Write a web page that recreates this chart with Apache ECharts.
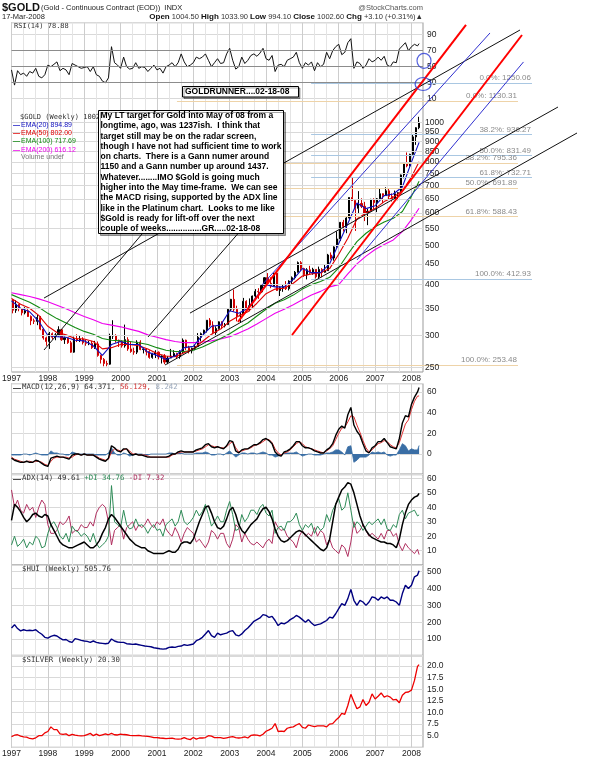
<!DOCTYPE html>
<html><head><meta charset="utf-8">
<script src="https://cdn.jsdelivr.net/npm/echarts@6/dist/echarts.min.js"></script>
<style>html,body{margin:0;padding:0;background:#fff}#c{width:600px;height:757px}</style>
</head><body><div id="c"></div>
<script>
// ================= DATA =================
// Gold monthly bars (Jan 1997 .. Mar 2008): close, high, low
const goldFirstOpen = 367;
const goldClose = [
346,358,349,341,345,334,326,325,332,311,296,290,
303,297,301,310,293,296,288,273,294,292,294,288,
287,287,280,286,268,262,256,255,299,300,292,290,
283,293,278,274,273,289,277,278,274,265,270,273,
266,267,258,264,267,271,266,273,292,280,275,279,
282,297,303,309,327,318,305,312,324,317,319,348,
368,348,335,337,364,347,355,375,385,384,398,416,
403,397,427,387,393,395,391,408,416,429,453,438,
423,435,428,436,418,436,429,433,473,465,495,518,
569,556,583,655,644,616,633,623,599,606,648,636,
650,669,662,680,659,651,669,673,744,793,783,836,
923,972,1002.6];
const goldHigh = [
369,366,358,350,352,348,336,330,337,335,313,298,
306,305,304,316,311,298,296,291,298,302,300,297,
293,291,291,291,290,269,264,260,303,327,302,293,
292,319,297,290,280,292,292,280,278,276,272,276,
274,268,270,267,278,276,272,276,295,293,283,280,
285,304,305,310,327,331,325,316,325,325,322,349,
369,389,355,341,371,366,370,376,390,392,400,417,
427,417,427,430,396,400,408,410,419,432,456,457,
440,439,445,440,436,443,439,448,476,480,497,541,
570,577,586,655,732,644,679,652,639,614,650,652,
653,690,667,694,690,670,681,675,746,795,845,839,
934,975,1034];
const goldLow = [
340,341,344,336,338,333,318,320,318,309,293,283,
278,293,292,298,291,286,286,272,272,289,289,285,
283,284,278,278,266,256,252,252,254,294,288,281,
280,280,275,272,269,270,276,271,268,263,263,264,
262,256,255,255,264,267,264,263,270,276,271,271,
276,281,290,300,305,315,302,301,310,311,314,319,
344,343,325,322,337,344,344,352,371,369,382,398,
399,392,396,386,375,384,388,387,401,412,428,432,
418,412,425,423,414,414,417,428,432,461,458,493,
512,540,535,580,643,542,600,617,573,560,611,613,
603,650,634,663,648,640,651,645,676,730,777,781,
833,882,964];

// Weekly EMAs sampled quarterly (1997.0 .. 2008.0) + last value
const ema20 = [365,350,343,325, 300,298,297,292, 291,283,268,285, 290,285,285,273, 268,262,267,280,
  282,300,316,318, 345,340,350,375, 400,395,395,412, 438,428,428,450, 505,565,635,615, 625,662,668,695, 800, 894.89];
const ema50 = [370,358,350,336, 316,305,301,295, 294,290,278,280, 285,285,283,278, 271,267,266,272,
  278,290,302,311, 325,335,343,360, 380,390,392,403, 420,425,428,438, 475,520,580,600, 615,640,656,680, 735, 802.00];
const ema100 = [378,370,362,352, 340,330,322,314, 307,302,295,292, 291,290,288,285, 280,276,274,274,
  276,281,288,295, 303,313,322,335, 348,360,367,377, 390,400,407,417, 440,475,510,535, 555,570,582,605, 660, 717.69];
const ema200 = [382,378,374,369, 363,356,349,341, 334,328,321,318, 315,311,307,301, 297,293,290,288,
  288,289,291,294, 298,304,311,320, 330,340,348,357, 367,377,385,395, 400,425,450,470, 488,502,515,540, 578, 616.12];

// Monthly indicator readings (Jan 1997 .. Mar 2008) + last value
const rsi14 = [
46,27,45,40,42,38,44,42,48,38,36,40,
52,50,53,56,45,48,46,40,54,52,50,48,
49,50,44,50,40,38,32,30,36,75,55,52,
48,62,50,47,48,55,48,50,49,44,48,52,
46,48,42,50,52,55,50,55,66,56,50,52,
55,62,60,62,66,58,50,55,60,54,55,66,
73,58,47,50,62,54,58,64,66,63,67,73,
60,58,64,44,52,53,50,58,60,62,68,55,
48,55,52,56,45,55,50,53,68,60,70,75,
78,65,68,80,85,48,56,54,48,52,60,56,
58,62,58,63,52,50,56,55,72,76,80,70,
75,78,76,78.88];
const macdLine = [
-4,-6,-7,-8,-8,-7,-8,-8,-6,-7,-9,-11,
-12,-4,-3,-2,-3,-3,-4,-5,-1,0,0,-1,
0,-1,-1,-1,-3,-5,-6,-7,-4,8,6,3,
2,5,5,1,-1,0,-1,-1,-2,-3,-3,-3,
-3,-3,-3,-3,-2,0,0,2,3,2,2,2,
2,4,5,6,9,10,7,6,7,6,5,8,
13,12,3,1,4,5,5,7,9,9,11,14,
15,13,10,2,-1,-2,2,3,5,8,12,12,
8,6,6,5,3,2,1,1,4,6,10,18,
24,27,25,38,45,28,22,18,10,3,1,6,
8,12,12,15,11,7,6,5,15,30,37,36,
48,55,60,64.371];
const macdSignal = [
-3,-5,-6,-7,-8,-7,-7,-8,-7,-7,-8,-10,
-11,-7,-4,-3,-3,-3,-3,-4,-3,-1,0,-1,
0,-1,-1,-1,-2,-4,-5,-6,-5,2,5,4,
3,4,5,3,0,0,-1,-1,-1,-2,-3,-3,
-3,-3,-3,-3,-3,-1,0,1,2,2,2,2,
2,3,4,5,7,9,8,7,7,6,6,7,
10,12,6,2,3,4,5,6,8,9,10,12,
14,14,11,5,1,-1,1,2,4,7,10,12,
10,7,6,5,4,3,2,1,3,5,8,14,
20,25,26,31,37,36,28,21,13,6,2,4,
7,10,11,13,12,9,7,6,11,20,29,33,
43,51,56,56.129];
const macdHist = [
-1,-1,-1,-1,0,0,-1,0,1,0,-1,-1,
-1,3,1,1,0,0,-1,-1,2,1,0,0,
0,0,0,0,-1,-1,-1,-1,1,6,1,-1,
-1,1,0,-2,-1,0,0,0,-1,-1,0,0,
0,0,0,0,1,1,0,1,1,0,0,0,
0,1,1,1,2,1,-1,-1,0,0,-1,1,
3,0,-3,-1,1,1,0,1,1,0,1,2,
1,-1,-1,-3,-2,-1,1,1,1,1,2,0,
-2,-1,0,0,-1,-1,-1,0,1,1,2,4,
4,2,-1,7,8,-8,-6,-3,-3,-3,-1,2,
1,2,1,2,-1,-2,-1,-1,4,10,8,3,
5,4,4,8.242];
const adx14 = [
31,42,40,37,33,30,32,35,36,34,33,35,
34,28,24,20,16,14,13,12,12,13,14,15,
16,14,12,12,14,17,22,26,32,35,33,30,
27,24,21,18,16,14,13,12,12,10,9,8,
8,8,8,9,10,9,9,11,15,16,16,15,
18,24,30,35,40,41,36,30,26,25,27,32,
38,40,35,28,24,22,25,28,30,32,36,39,
40,37,32,25,20,17,16,17,19,21,23,24,
23,21,19,17,15,13,11,10,12,18,30,42,
47,52,54,57,56,50,42,34,28,24,21,19,
18,17,16,16,15,15,14,12,18,28,36,42,
45,47,48,49.61];
const plusDI = [
14,20,13,15,18,12,16,14,20,18,12,13,
22,28,30,26,20,18,22,16,27,24,23,20,
22,20,16,22,15,12,14,16,20,55,30,28,
26,38,28,25,26,32,27,28,26,22,26,28,
24,25,20,28,30,32,27,30,38,30,28,30,
33,38,34,37,42,35,27,30,34,30,30,38,
44,35,24,25,35,30,33,38,38,35,40,42,
36,34,38,22,26,27,24,30,30,32,36,28,
24,28,26,29,22,27,24,26,35,30,38,42,
46,38,40,50,38,26,30,28,24,27,30,28,
30,32,28,32,25,24,28,26,35,38,32,36,
37,38,34,34.76];
const minusDI = [
52,40,45,38,36,42,38,40,33,40,45,42,
28,22,22,24,30,28,30,34,22,24,24,28,
26,26,30,27,36,40,42,40,30,14,24,26,
28,18,26,28,30,24,28,26,28,32,28,26,
30,28,32,25,22,20,26,22,16,22,26,24,
22,16,18,15,12,16,24,22,18,22,22,15,
12,18,28,26,16,22,18,15,14,16,14,12,
16,18,15,30,26,24,25,20,18,16,12,20,
24,20,22,20,26,20,24,22,14,18,12,10,
8,14,12,6,16,30,22,24,28,24,20,22,
20,18,22,18,24,24,20,22,14,10,15,12,
10,8,11,7.32];
const hui = [
165,185,162,148,155,150,152,150,155,140,128,110,
105,115,122,118,105,95,97,85,80,102,98,92,
88,86,80,88,80,76,74,72,75,100,88,82,
80,80,72,70,68,70,66,62,58,56,54,48,
45,42,40,42,50,52,50,56,58,66,62,66,
70,90,98,110,130,150,120,110,135,125,130,135,
145,150,125,118,130,150,165,185,205,215,225,245,
240,228,235,210,180,195,190,200,215,225,240,230,
215,200,215,195,180,185,190,200,210,230,225,250,
280,310,300,340,395,330,300,330,320,300,320,350,
345,330,350,340,350,330,330,320,300,370,420,400,
420,470,480,505.76];
const silver = [
4.8,5.1,5.2,4.9,4.75,4.7,4.4,4.3,4.55,5.0,5.0,5.6,
5.9,6.9,6.3,6.3,5.4,5.3,5.4,5.0,5.3,5.1,5.0,4.95,
5.0,5.25,5.5,5.0,5.35,5.0,5.2,5.4,5.2,5.5,5.2,5.15,
5.35,5.25,5.2,5.05,5.0,5.0,5.05,4.95,4.9,4.85,4.75,4.6,
4.6,4.5,4.45,4.35,4.4,4.45,4.3,4.25,4.3,4.6,4.3,4.15,
4.6,4.25,4.5,4.5,4.6,5.0,4.9,4.6,4.6,4.6,4.4,4.55,
4.7,4.8,4.6,4.5,4.6,4.75,4.5,5.05,5.15,5.1,4.95,5.3,
5.95,6.25,6.6,7.6,5.9,6.0,5.9,6.6,6.8,6.9,7.3,7.6,
6.8,6.6,7.3,7.1,6.95,7.1,7.1,7.1,6.9,7.5,7.6,8.3,
8.9,9.8,9.6,11.5,13.9,12.3,10.8,11.2,12.8,11.5,12.2,14.0,
12.9,13.5,14.2,13.3,13.6,13.3,12.7,12.8,12.1,13.7,14.3,14.4,
14.8,16.9,19.9,20.30];

// Tick labels
const priceTicks = [250,300,350,400,450,500,550,600,650,700,750,800,850,900,950,1000];

// Fibonacci annotations (levels) and their year span
const fibPct = ['0.0%','38.2%','50.0%','61.8%','100.0%'];
const fibA = [1250.06, 936.27, 831.49, 732.71, 412.93];
const fibASpan = [2005.24, 2011.315];
const fibB = [1130.31, 795.36, 691.89, 588.43, 253.48];
const fibBSpan = [2001.55, 2010.93];

// Trend-line annotations: [year, price] end points
const trendBlack = [
  [[1997.894, 276.3], [2001.497, 664.3]],
  [[2000.754, 297.4], [2003.697, 596.5]],
  [[1997.894, 370.7], [2010.985, 1689.6]],
  [[2001.222, 253.8], [2012.553, 943.4]],
  [[2001.909, 340.5], [2012.030, 1092.9]]
];
const trendRed = [
  [[2003.229, 323.9], [2009.500, 1738.7]],
  [[2004.715, 300.8], [2011.040, 1642.5]]
];
const trendBlue = [
  [[2003.889, 399.2], [2010.160, 1661.3]],
  [[2006.502, 459.9], [2011.081, 1410.3]]
];
// RSI-panel circle annotations [year, rsi]
const rsiCircles = [[2008.345, 57.4], [2008.32, 28.4]];

const noteLines = [
'My LT target for Gold into May of 08 from a',
'longtime, ago, was 1237ish.  I think that',
'target still may be on the radar screen,',
'though I have not had sufficient time to work',
'on charts.  There is a Gann numer around',
'1150 and a Gann number up around 1437.',
'Whatever........IMO $Gold is going much',
'higher into the May time-frame.  We can see',
'the MACD rising, supported by the ADX line',
'like in the Platinum chart.  Looks to me like',
'$Gold is ready for lift-off over the next',
'couple of weeks...............GR.....02-18-08'
];

// ================= LAYOUT =================
const PLOT_L = 11.5, PLOT_R = 423, PX_PER_YEAR = 36.36;
const X_MIN = 1997, X_MAX = X_MIN + (PLOT_R - PLOT_L) / PX_PER_YEAR;
const X_MAX_OVER = X_MIN + (600 - PLOT_L) / PX_PER_YEAR;
const Y_1000 = 122.7, PX_PER_DECADE = 406.9;
const MAIN_TOP = 22.7, MAIN_BOTTOM = 372;
const priceAtY = y => 1000 * Math.pow(10, (Y_1000 - y) / PX_PER_DECADE);
const SANS = '"Liberation Sans", Arial, sans-serif';
const MONO = '"DejaVu Sans Mono", monospace';

const monthX = i => i < 135 ? 1997 + i / 12 : 2008.21;
const quarterX = i => i < 45 ? 1997 + i / 4 : 2008.21;
const pairs = (arr, fx) => arr.map((v, i) => [fx(i), v]);

const goldBars = goldClose.map((c, i) => [1997 + (i + 0.5) / 12, i ? goldClose[i - 1] : goldFirstOpen, c, goldLow[i], goldHigh[i]]);

const W = PLOT_R - PLOT_L;
const gridBase = {left: PLOT_L, width: W, containLabel: false, outerBoundsMode: 'none'};
const framed = {show: true, borderColor: '#9a9a9a', borderWidth: 1};
const grids = [
  Object.assign({}, gridBase, framed, {top: MAIN_TOP, height: MAIN_BOTTOM - MAIN_TOP}),
  Object.assign({}, gridBase, {top: 22.7, height: 76}),
  Object.assign({}, gridBase, framed, {top: 383.7, height: 91}),
  Object.assign({}, gridBase, framed, {top: 474, height: 91.2}),
  Object.assign({}, gridBase, framed, {top: 565, height: 90.8}),
  Object.assign({}, gridBase, framed, {top: 655.3, height: 92}),
  {left: PLOT_L, width: 600 - PLOT_L, top: 0, height: MAIN_BOTTOM, containLabel: false, outerBoundsMode: 'none'}
];

function xAx(gi, showLabel) {
  const grid = gi !== 1;
  return {type: 'value', gridIndex: gi, min: X_MIN, max: X_MAX, interval: 1,
    axisLine: {show: false}, axisTick: {show: false},
    axisLabel: {show: showLabel, fontSize: 8.5, fontFamily: SANS, color: '#222', margin: 2,
      showMaxLabel: false, formatter: v => (Math.abs(v - Math.round(v)) < 1e-6 ? String(Math.round(v)) : '')},
    splitLine: {show: grid, lineStyle: {color: '#cdcdcd', width: 1}},
    minorTick: {show: grid, splitNumber: 3, length: 0},
    minorSplitLine: {show: grid, lineStyle: {color: '#e4e4e4', width: 1}}};
}
function yAx(gi, min, max, interval, fmt, showMin) {
  return {type: 'value', gridIndex: gi, position: 'right', min, max, interval,
    axisLine: {show: false}, axisTick: {show: false},
    axisLabel: {fontSize: 8.5, fontFamily: SANS, color: '#222', margin: 4,
      showMinLabel: !!showMin, showMaxLabel: false, formatter: fmt},
    splitLine: {show: true, lineStyle: {color: '#d9d9d9', width: 1}}};
}

const xAxes = [xAx(0, true), xAx(1, false), xAx(2, false), xAx(3, false), xAx(4, false), xAx(5, true),
  {type: 'value', gridIndex: 6, min: X_MIN, max: X_MAX_OVER, show: false}];
const yAxes = [
  {type: 'log', logBase: 10, gridIndex: 0, position: 'right', min: priceAtY(MAIN_BOTTOM), max: priceAtY(MAIN_TOP),
    axisLine: {show: false}, axisTick: {show: false}, axisLabel: {show: false}, splitLine: {show: false}, minorSplitLine: {show: false}},
  yAx(1, 10, 105, 20, v => String(v), true),
  yAx(2, -20, 68, 20, v => String(v), false),
  yAx(3, 0, 63, 10, v => String(v), false),
  yAx(4, 0, 540, 100, v => String(v), false),
  yAx(5, 2.5, 22.3, 2.5, v => v.toFixed(1), false),
  {type: 'log', logBase: 10, gridIndex: 6, min: priceAtY(MAIN_BOTTOM), max: priceAtY(0), show: false}
];

const lineS = (gi, data, color, width, z) => ({type: 'line', xAxisIndex: gi, yAxisIndex: gi, data, symbol: 'none',
  lineStyle: {color, width}, itemStyle: {color}, z: z || 3, silent: true, animation: false});

const series = [];
// price grid lines + labels
series.push({type: 'line', xAxisIndex: 0, yAxisIndex: 0, data: [], z: 1, silent: true,
  markLine: {silent: true, symbol: ['none', 'none'], animation: false,
    lineStyle: {color: '#d9d9d9', width: 1, type: 'solid'},
    label: {show: true, position: 'end', distance: 2, color: '#222', fontSize: 8.5, fontFamily: SANS, formatter: p => String(p.value)},
    data: priceTicks.map(v => ({yAxis: v}))}});
// gold bars
series.push({type: 'candlestick', xAxisIndex: 0, yAxisIndex: 0, data: goldBars, encode: {x: 0, y: [1, 2, 3, 4]},
  barWidth: 1.6, z: 2, silent: true, animation: false,
  itemStyle: {color: '#000', color0: '#d00000', borderColor: '#000', borderColor0: '#d00000', borderWidth: 1}});
series.push(lineS(0, pairs(ema200, quarterX), '#ee00ee', 1.1));
series.push(lineS(0, pairs(ema100, quarterX), '#128a12', 1.1));
series.push(lineS(0, pairs(ema50, quarterX), '#e00000', 1.1));
series.push(lineS(0, pairs(ema20, quarterX), '#1010c0', 1.1));

// RSI
const rsiS = lineS(1, pairs(rsi14, monthX), '#111', 1);
rsiS.markLine = {silent: true, symbol: ['none', 'none'], animation: false, label: {show: false},
  lineStyle: {color: '#8c8c8c', width: 1, type: 'solid'}, data: [{yAxis: 30}, {yAxis: 50}, {yAxis: 70}]};
series.push(rsiS);
series.push({type: 'scatter', xAxisIndex: 1, yAxisIndex: 1, clip: false, silent: true, z: 20, animation: false,
  data: rsiCircles.map((p, k) => ({value: p, symbolSize: k === 0 ? [14, 15] : [16, 13]})),
  symbol: 'circle', itemStyle: {color: 'rgba(0,0,0,0)', borderColor: '#2b3bd6', borderWidth: 1.2}});

// MACD
series.push({type: 'line', xAxisIndex: 2, yAxisIndex: 2, data: pairs(macdHist, monthX), symbol: 'none', silent: true, animation: false,
  lineStyle: {color: '#3a6ea5', width: 0.8}, areaStyle: {color: '#3a6ea5', opacity: 1, origin: 0}, z: 2});
series.push(lineS(2, pairs(macdSignal, monthX), '#e03030', 1));
series.push(lineS(2, pairs(macdLine, monthX), '#000', 1.4));

// ADX
series.push(lineS(3, pairs(minusDI, monthX), '#b03060', 1));
series.push(lineS(3, pairs(plusDI, monthX), '#2e8b57', 1));
series.push(lineS(3, pairs(adx14, monthX), '#000', 1.5));

// HUI, Silver
series.push(lineS(4, pairs(hui, monthX), '#000080', 1.4));
series.push(lineS(5, pairs(silver, monthX), '#ee0000', 1.3));

// Overlay annotations
trendBlack.forEach(seg => series.push(lineS(6, seg, '#111', 1, 10)));
trendBlue.forEach(seg => series.push(lineS(6, seg, '#3030d0', 1, 11)));
trendRed.forEach(seg => series.push(lineS(6, seg, '#ff0000', 2, 12)));
function fibSeries(levels, span, color) {
  return {type: 'line', xAxisIndex: 6, yAxisIndex: 6, data: [], z: 5, silent: true,
    markLine: {silent: true, symbol: ['none', 'none'], animation: false,
      lineStyle: {color, width: 1, type: 'solid'},
      label: {show: true, position: 'insideEndTop', distance: 1, formatter: '{b}', color: '#8a8a8a', fontSize: 8, fontFamily: SANS},
      data: levels.map((v, k) => [{name: fibPct[k] + ': ' + v.toFixed(2), coord: [span[0], v]}, {coord: [span[1], v]}])}};
}
series.push(fibSeries(fibA, fibASpan, '#a9c7e2'));
series.push(fibSeries(fibB, fibBSpan, '#eed3a8'));

// ================= TEXT / ANNOTATION BOXES =================
const G = [];
function T(x, y, text, font, fill, align, extra) {
  G.push({type: 'text', z: 98, x, y, silent: true,
    style: Object.assign({text, font, fill: fill || '#111', align: align || 'left', verticalAlign: 'middle',
      textAlign: align || 'left', textVerticalAlign: 'middle'}, extra || {})});
}
T(2, 7.5, '$GOLD', 'bold 11px ' + SANS, '#111');
T(41, 8, '(Gold - Continuous Contract (EOD))  INDX', '7.5px ' + SANS, '#222');
T(423, 7.5, '@StockCharts.com', '7.5px ' + SANS, '#555', 'right');
T(2, 17, '17-Mar-2008', '7.5px ' + SANS, '#222');
T(423, 17, '{b|Open} {n|1004.50} {b|High} {n|1033.90} {b|Low} {n|994.10} {b|Close} {n|1002.60} {b|Chg} {n|+3.10 (+0.31%)\u25B2}', '7.5px ' + SANS, '#222', 'right',
  {rich: {b: {font: 'bold 8px ' + SANS, fill: '#111'}, n: {font: '7.5px ' + SANS, fill: '#333'}}});
T(14, 26, 'RSI(14) 78.88', '7px ' + MONO, '#333');

// main legend
T(20, 117, '$GOLD (Weekly) 1002.60', '7px ' + MONO, '#333');
const emaLeg = [['EMA(20) 894.89', '#1010c0'], ['EMA(50) 802.00', '#e00000'], ['EMA(100) 717.69', '#128a12'], ['EMA(200) 616.12', '#ee00ee']];
emaLeg.forEach((e, k) => {
  T(13, 125 + k * 8.2, '\u2014', 'bold 7px ' + SANS, e[1]);
  T(21, 125 + k * 8.2, e[0], '7px ' + SANS, e[1]);
});
T(21, 157.5, 'Volume undef', '7px ' + SANS, '#777');

// lower panel legends
T(13, 387.5, '\u2014', 'bold 8px ' + SANS, '#000');
T(22, 387.5, '{a|MACD(12,26,9) 64.371, }{r|56.129, }{g|8.242}', '7.4px ' + MONO, '#333', 'left',
  {rich: {a: {font: '7.4px ' + MONO, fill: '#333'}, r: {font: '7.4px ' + MONO, fill: '#d03030'}, g: {font: '7.4px ' + MONO, fill: '#9aa8bb'}}});
T(13, 478.5, '\u2014', 'bold 8px ' + SANS, '#000');
T(22, 478.5, '{a|ADX(14) 49.61 }{g|+DI 34.76 }{r|-DI 7.32}', '7.4px ' + MONO, '#333', 'left',
  {rich: {a: {font: '7.4px ' + MONO, fill: '#333'}, g: {font: '7.4px ' + MONO, fill: '#2e8b57'}, r: {font: '7.4px ' + MONO, fill: '#b03060'}}});
T(22, 569.5, '$HUI (Weekly) 505.76', '7.4px ' + MONO, '#333');
T(22, 660, '$SILVER (Weekly) 20.30', '7.4px ' + MONO, '#333');

// note boxes
G.push({type: 'rect', z: 99, silent: true, shape: {x: 182.5, y: 86.5, width: 116, height: 10.5},
  style: {fill: '#fff', stroke: '#000', lineWidth: 1, shadowColor: 'rgba(0,0,0,0.35)', shadowOffsetX: 1.5, shadowOffsetY: 1.5, shadowBlur: 0}});
G.push({type: 'text', z: 100, x: 185, y: 92, silent: true,
  style: {text: 'GOLDRUNNER....02-18-08', font: 'bold 8.5px ' + SANS, fill: '#000', verticalAlign: 'middle', textVerticalAlign: 'middle'}});
G.push({type: 'rect', z: 99, silent: true, shape: {x: 98.5, y: 110.5, width: 185, height: 123},
  style: {fill: '#fff', stroke: '#000', lineWidth: 1, shadowColor: 'rgba(0,0,0,0.35)', shadowOffsetX: 2, shadowOffsetY: 2, shadowBlur: 0}});
G.push({type: 'text', z: 100, x: 100.5, y: 110.5, silent: true,
  style: {text: noteLines.join('\n'), font: 'bold 8.5px ' + SANS, fill: '#000', lineHeight: 10.3, verticalAlign: 'top', textVerticalAlign: 'top'}});

const chart = echarts.init(document.getElementById('c'), null, {renderer: 'canvas', width: 600, height: 757});
chart.setOption({
  animation: false,
  backgroundColor: '#fff',
  grid: grids,
  xAxis: xAxes,
  yAxis: yAxes,
  series,
  graphic: G
});
</script>
</body></html>
